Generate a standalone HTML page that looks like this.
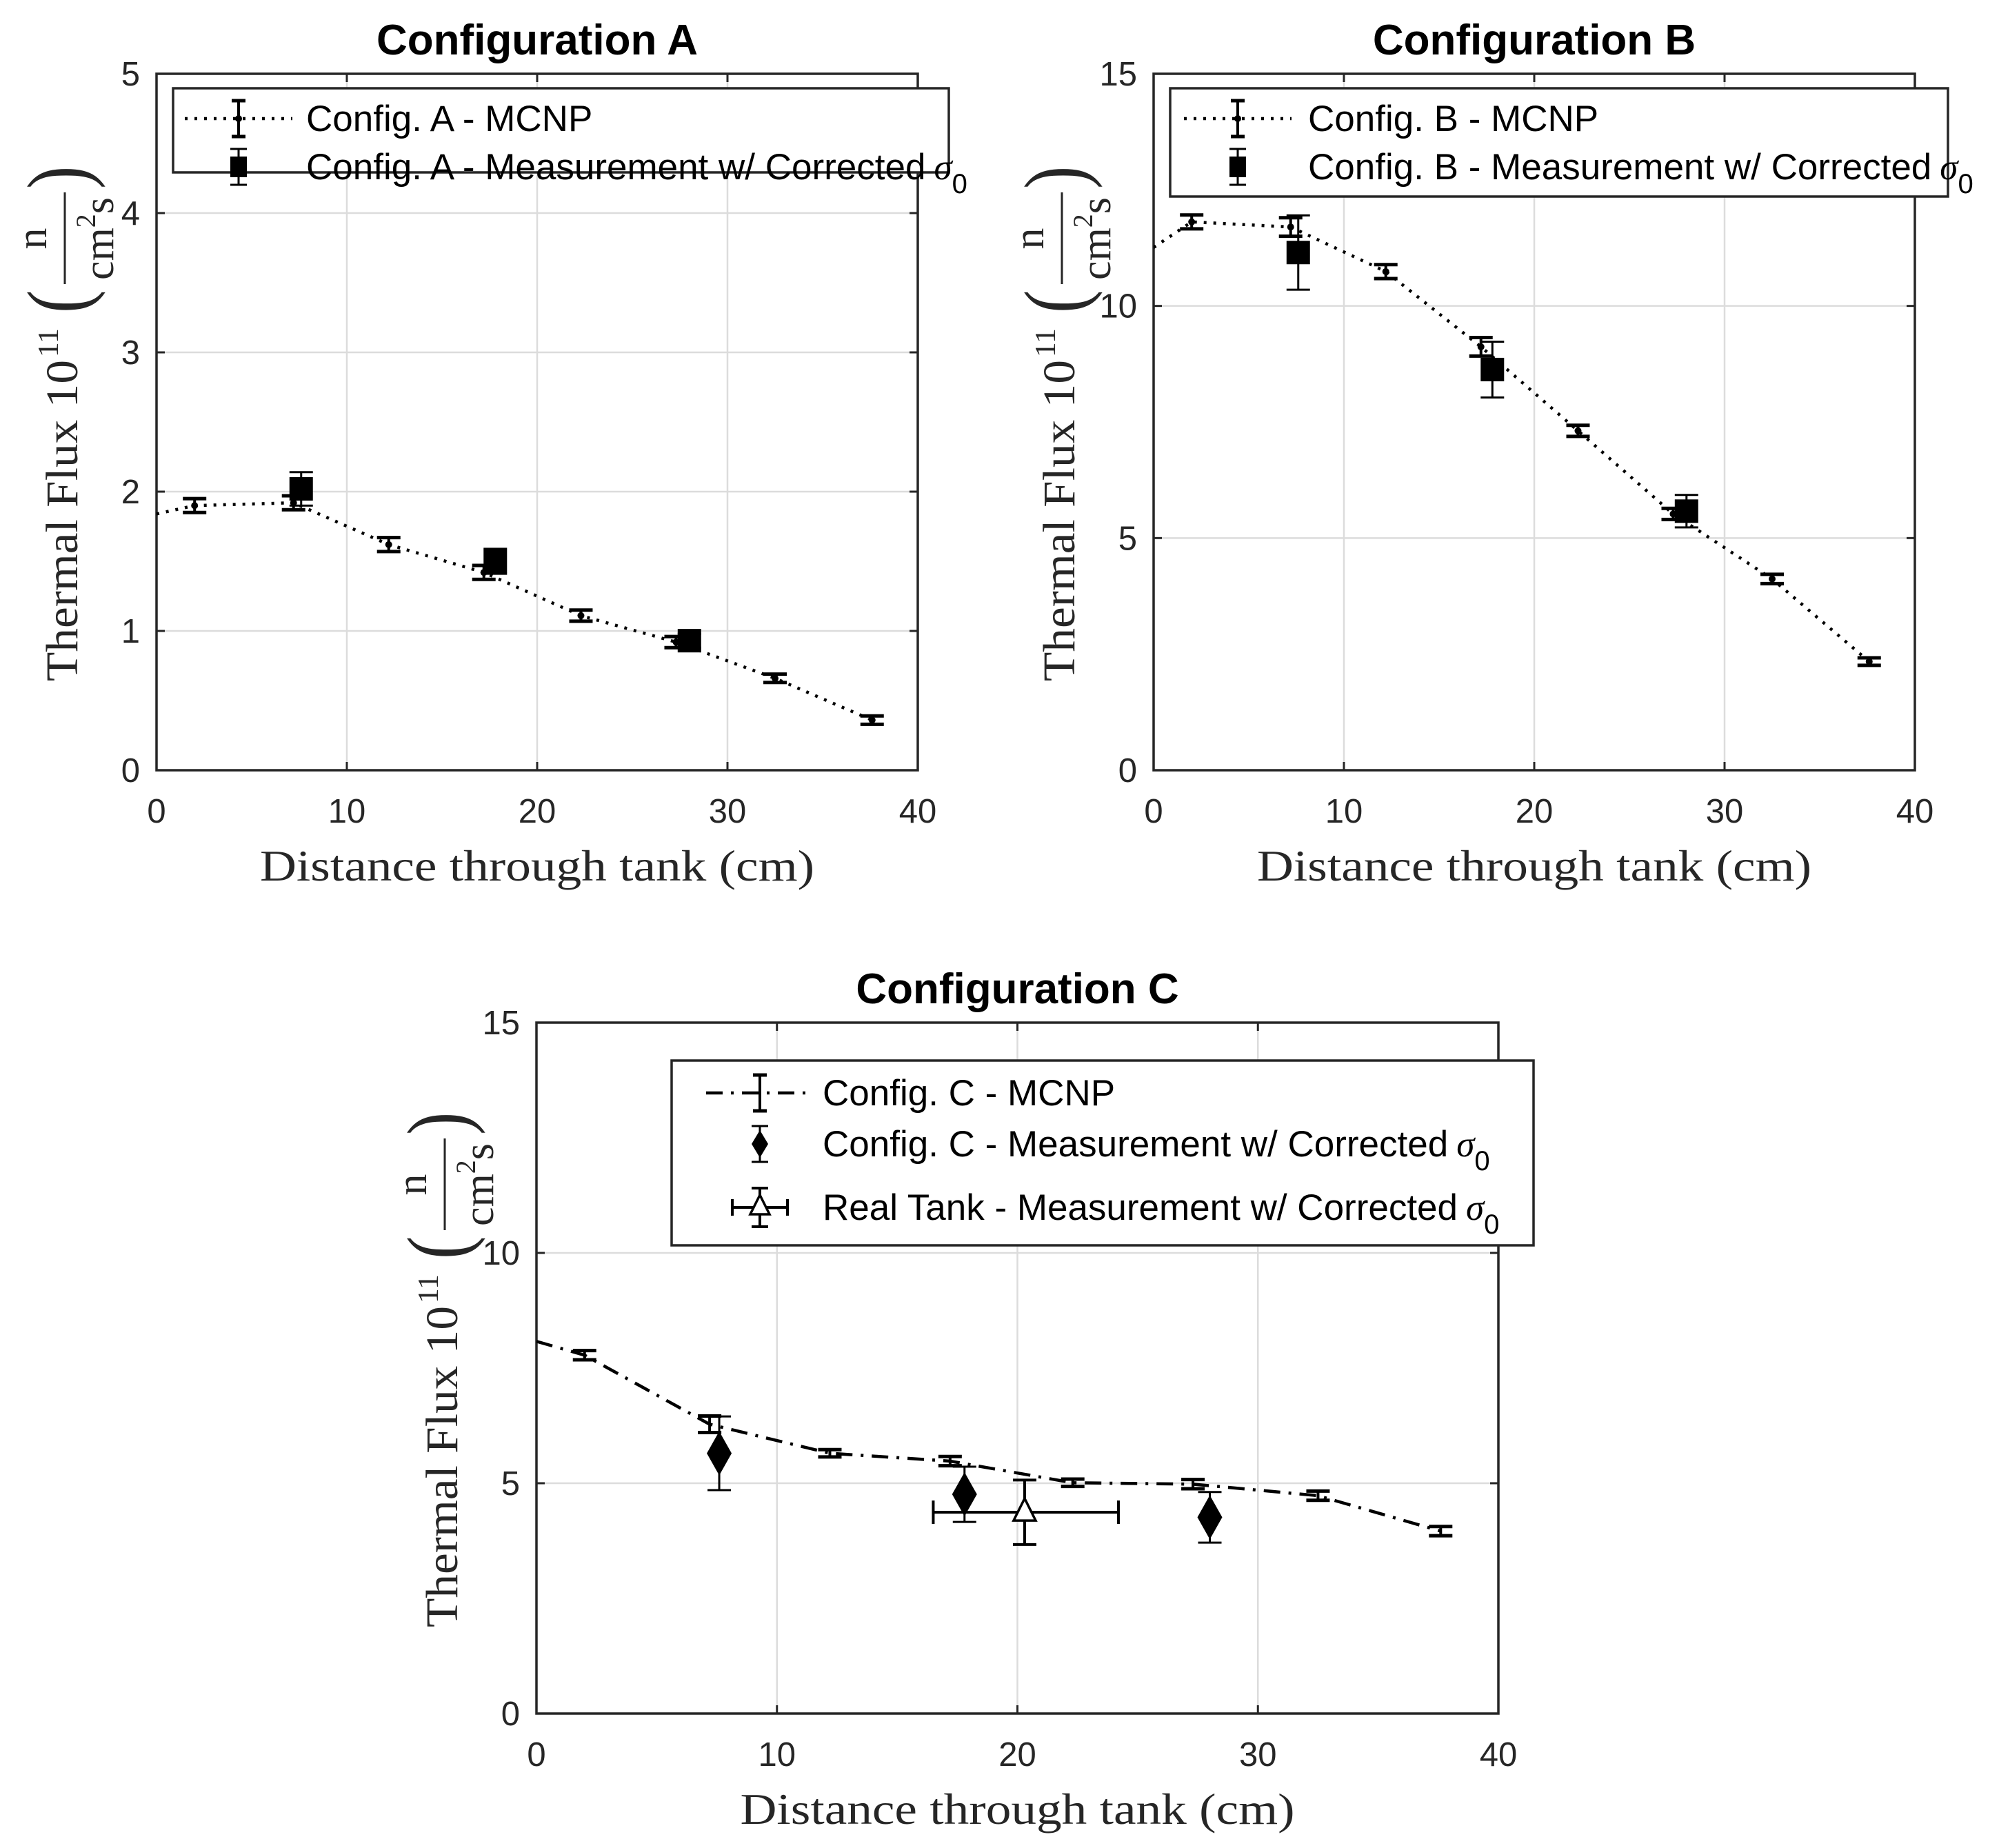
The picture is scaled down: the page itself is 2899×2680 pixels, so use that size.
<!DOCTYPE html>
<html><head><meta charset="utf-8"><style>
body{margin:0;background:#fff}
svg{display:block}
.t{font-family:"Liberation Sans",sans-serif}
.s{font-family:"Liberation Serif",serif}
</style></head><body>
<svg id="fig" width="2899" height="2680" viewBox="0 0 2899 2680" xmlns="http://www.w3.org/2000/svg"></svg>
<script>
// ---- Data ----
const xMcnp = [2, 7.2, 12.2, 17.2, 22.3, 27.3, 32.5, 37.6];
const xMeas = [7.6, 17.8, 28];
const aMcnpY = [1.9, 1.92, 1.62, 1.42, 1.11, 0.92, 0.66, 0.36];
const aMcnpErr = [0.05, 0.05, 0.05, 0.05, 0.04, 0.04, 0.03, 0.03];
const aStart = 1.84;
const aMeasY = [2.02, 1.5, 0.93];
const aMeasErr = [0.12, 0.09, 0.05];
const bMcnpY = [11.81, 11.7, 10.74, 9.12, 7.31, 5.52, 4.12, 2.34];
const bMcnpErr = [0.15, 0.2, 0.15, 0.2, 0.12, 0.12, 0.1, 0.08];
const bStart = 11.26;
const bMeasY = [11.15, 8.63, 5.58];
const bMeasErr = [0.8, 0.6, 0.35];
const cMcnpY = [7.78, 6.28, 5.65, 5.48, 5.01, 4.98, 4.73, 3.96];
const cMcnpErr = [0.1, 0.18, 0.08, 0.1, 0.08, 0.1, 0.1, 0.1];
const cStart = 8.08;
const cMeasY = [5.65, 4.76, 4.26];
const cMeasErr = [0.8, 0.6, 0.55];
const tankX = [20.3];
const tankY = [4.37];
const tankYErr = [0.7];
const tankXLo = [16.5];
const tankXHi = [24.2];
const xTicks = [0, 10, 20, 30, 40];
const aYTicks = [0, 1, 2, 3, 4, 5];
const bcYTicks = [0, 5, 10, 15];

const NS = 'http://www.w3.org/2000/svg';
const svg = document.getElementById('fig');
function mk(tag, attrs, parent, txt){
  const e = document.createElementNS(NS, tag);
  for (const k in attrs) e.setAttribute(k, attrs[k]);
  if (txt !== undefined) e.textContent = txt;
  (parent || svg).appendChild(e);
  return e;
}

function panel(p){
  const g = mk('g', {});
  
  
  const X = v => p.L + (v - 0) / 40 * (p.R - p.L);
  const Y = v => p.B - v / p.ymax * (p.B - p.T);
  xTicks.forEach(v => {
    if (v > 0 && v < 40) { const gl = mk('line', {x1:X(v), x2:X(v), y1:p.T, y2:p.B, stroke:'#dcdcdc', 'stroke-width':2.5}, g);
        }
    const t = mk('text', {x:X(v), y:p.B + 76, 'text-anchor':'middle', 'font-size':49, fill:'#262626', class:'t'}, g, v);
     
    mk('line', {x1:X(v), x2:X(v), y1:p.B, y2:p.B-12, stroke:'#262626', 'stroke-width':3}, g);
    mk('line', {x1:X(v), x2:X(v), y1:p.T, y2:p.T+12, stroke:'#262626', 'stroke-width':3}, g);
  });
  p.yt.forEach(v => {
    if (v > 0 && v < p.ymax) { const gl = mk('line', {x1:p.L, x2:p.R, y1:Y(v), y2:Y(v), stroke:'#dcdcdc', 'stroke-width':2.5}, g);
        }
    const t = mk('text', {x:p.L - 24, y:Y(v) + 17, 'text-anchor':'end', 'font-size':49, fill:'#262626', class:'t'}, g, v);
     
    mk('line', {x1:p.L, x2:p.L+12, y1:Y(v), y2:Y(v), stroke:'#262626', 'stroke-width':3}, g);
    mk('line', {x1:p.R, x2:p.R-12, y1:Y(v), y2:Y(v), stroke:'#262626', 'stroke-width':3}, g);
  });
  const box = mk('rect', {x:p.L, y:p.T, width:p.R-p.L, height:p.B-p.T, fill:'none', stroke:'#262626', 'stroke-width':3.5}, g);
   
  const title = mk('text', {x:(p.L+p.R)/2, y:p.T - 28, 'text-anchor':'middle', 'font-size':62, 'font-weight':'bold', class:'t'}, g, p.title);
   
  const xl = mk('text', {x:(p.L+p.R)/2, y:p.B + 160, 'text-anchor':'middle', 'font-size':64, fill:'#262626', class:'s', textLength:804, lengthAdjust:'spacingAndGlyphs'}, g, 'Distance through tank  (cm)');
   
  const cy = (p.T + p.B) / 2, cx = p.L - 135;
  const yl = mk('g', {transform:`translate(${cx},${cy}) rotate(-90)`, fill:'#262626', class:'s'}, g);
   
  mk('text', {x:-376, y:20, 'font-size':66, textLength:466, lengthAdjust:'spacingAndGlyphs'}, yl, 'Thermal Flux 10');
  mk('text', {x:94, y:-8, 'font-size':42, textLength:42, lengthAdjust:'spacingAndGlyphs'}, yl, '11');
  mk('text', {x:0, y:0, 'font-size':100, transform:'translate(158,34) scale(1,1.25)'}, yl, '(');
  mk('text', {x:266, y:-25, 'font-size':62, 'text-anchor':'middle'}, yl, 'n');
  mk('line', {x1:200, x2:333, y1:2, y2:2, stroke:'#262626', 'stroke-width':3}, yl);
  const cm = mk('text', {x:266, y:72, 'font-size':62, 'text-anchor':'middle'}, yl);
  mk('tspan', {}, cm, 'cm');
  mk('tspan', {'font-size':40, dy:-26}, cm, '2');
  mk('tspan', {dy:26}, cm, 's');
  mk('text', {x:0, y:0, 'font-size':100, transform:'translate(338,34) scale(1,1.25)'}, yl, ')');

  const cid = 'clip-' + p.name;
  const cp = mk('clipPath', {id:cid}, g); mk('rect', {x:p.L, y:p.T, width:p.R-p.L, height:p.B-p.T}, cp);
  const pg = mk('g', {'clip-path':`url(#${cid})`}, g);
  let d = `M${X(0)},${Y(p.start)}`;
  xMcnp.forEach((x, i) => d += ` L${X(x)},${Y(p.mY[i])}`);
  const ln = mk('path', {d, fill:'none', stroke:'#000', 'stroke-width':4.5, 'stroke-dasharray':p.dash}, pg);
   
  xMcnp.forEach((x, i) => {
    const e = mk('g', {}, pg);
     
    const y1 = Y(p.mY[i] + p.mE[i]), y2 = Y(p.mY[i] - p.mE[i]);
    mk('line', {x1:X(x), x2:X(x), y1, y2, stroke:'#000', 'stroke-width':4}, e);
    mk('line', {x1:X(x)-17, x2:X(x)+17, y1, y2:y1, stroke:'#000', 'stroke-width':5}, e);
    mk('line', {x1:X(x)-17, x2:X(x)+17, y1:y2, y2:y2, stroke:'#000', 'stroke-width':5}, e);
    if (p.dotMarker) mk('circle', {cx:X(x), cy:Y(p.mY[i]), r:5, fill:'#000'}, e);
  });
  xMeas.forEach((x, i) => {
    const e = mk('g', {}, pg);
     
    const y1 = Y(p.sY[i] + p.sE[i]), y2 = Y(p.sY[i] - p.sE[i]);
    mk('line', {x1:X(x), x2:X(x), y1, y2, stroke:'#000', 'stroke-width':3}, e);
    mk('line', {x1:X(x)-17, x2:X(x)+17, y1, y2:y1, stroke:'#000', 'stroke-width':3}, e);
    mk('line', {x1:X(x)-17, x2:X(x)+17, y1:y2, y2:y2, stroke:'#000', 'stroke-width':3}, e);
    const cxp = X(x), cyp = Y(p.sY[i]);
    if (p.diamond) mk('polygon', {points:`${cxp},${cyp-32} ${cxp+18},${cyp} ${cxp},${cyp+32} ${cxp-18},${cyp}`, fill:'#000'}, e);
    else mk('rect', {x:cxp-17, y:cyp-17, width:34, height:34, fill:'#000'}, e);
  });
  if (p.tank) {
    tankX.forEach((x, i) => {
      const e = mk('g', {}, pg);
       
      const cxp = X(x), cyp = Y(tankY[i]);
      const y1 = Y(tankY[i] + tankYErr[i]), y2 = Y(tankY[i] - tankYErr[i]);
      mk('line', {x1:cxp, x2:cxp, y1, y2, stroke:'#000', 'stroke-width':4}, e);
      mk('line', {x1:cxp-17, x2:cxp+17, y1, y2:y1, stroke:'#000', 'stroke-width':4}, e);
      mk('line', {x1:cxp-17, x2:cxp+17, y1:y2, y2:y2, stroke:'#000', 'stroke-width':4}, e);
      const xa = X(tankXLo[i]), xb = X(tankXHi[i]);
      mk('line', {x1:xa, x2:xb, y1:cyp, y2:cyp, stroke:'#000', 'stroke-width':4}, e);
      mk('line', {x1:xa, x2:xa, y1:cyp-17, y2:cyp+17, stroke:'#000', 'stroke-width':4}, e);
      mk('line', {x1:xb, x2:xb, y1:cyp-17, y2:cyp+17, stroke:'#000', 'stroke-width':4}, e);
      mk('polygon', {points:`${cxp},${cyp-20} ${cxp+16},${cyp+12} ${cxp-16},${cyp+12}`, fill:'#fff', stroke:'#000', 'stroke-width':3.5}, e);
    });
  }
  const lg = mk('g', {}, g);
   
  const lb = p.leg;
  mk('rect', {x:lb.x, y:lb.y, width:lb.w, height:lb.h, fill:'#fff', stroke:'#262626', 'stroke-width':3.5}, lg);
  lb.items.forEach((it, i) => {
    const ey = lb.rows[i];
    const en = mk('g', {}, lg);
     
    const ic = lb.icon;
    if (it.kind === 'line') {
      mk('line', {x1:ic-78, x2:ic+78, y1:ey, y2:ey, stroke:'#000', 'stroke-width':4.5, 'stroke-dasharray':p.dash}, en);
      mk('line', {x1:ic, x2:ic, y1:ey-26, y2:ey+26, stroke:'#000', 'stroke-width':4}, en);
      mk('line', {x1:ic-10, x2:ic+10, y1:ey-26, y2:ey-26, stroke:'#000', 'stroke-width':5}, en);
      mk('line', {x1:ic-10, x2:ic+10, y1:ey+26, y2:ey+26, stroke:'#000', 'stroke-width':5}, en);
      if (p.dotMarker) mk('circle', {cx:ic, cy:ey, r:5, fill:'#000'}, en);
    } else if (it.kind === 'tank') {
      mk('line', {x1:ic-40, x2:ic+40, y1:ey, y2:ey, stroke:'#000', 'stroke-width':4}, en);
      mk('line', {x1:ic-40, x2:ic-40, y1:ey-12, y2:ey+12, stroke:'#000', 'stroke-width':4}, en);
      mk('line', {x1:ic+40, x2:ic+40, y1:ey-12, y2:ey+12, stroke:'#000', 'stroke-width':4}, en);
      mk('line', {x1:ic, x2:ic, y1:ey-28, y2:ey+28, stroke:'#000', 'stroke-width':4}, en);
      mk('line', {x1:ic-12, x2:ic+12, y1:ey-28, y2:ey-28, stroke:'#000', 'stroke-width':4}, en);
      mk('line', {x1:ic-12, x2:ic+12, y1:ey+28, y2:ey+28, stroke:'#000', 'stroke-width':4}, en);
      mk('polygon', {points:`${ic},${ey-18} ${ic+14},${ey+10} ${ic-14},${ey+10}`, fill:'#fff', stroke:'#000', 'stroke-width':3.5}, en);
    } else {
      mk('line', {x1:ic, x2:ic, y1:ey-26, y2:ey+26, stroke:'#000', 'stroke-width':3}, en);
      mk('line', {x1:ic-12, x2:ic+12, y1:ey-26, y2:ey-26, stroke:'#000', 'stroke-width':3}, en);
      mk('line', {x1:ic-12, x2:ic+12, y1:ey+26, y2:ey+26, stroke:'#000', 'stroke-width':3}, en);
      if (it.kind === 'diamond') mk('polygon', {points:`${ic},${ey-20} ${ic+12},${ey} ${ic},${ey+20} ${ic-12},${ey}`, fill:'#000'}, en);
      else mk('rect', {x:ic-12, y:ey-15, width:24, height:30, fill:'#000'}, en);
    }
    const tx = mk('text', {x:lb.tx, y:ey + 18, 'font-size':53, class:'t', fill:'#000'}, en, it.label);
    if (it.sigma) {
      mk('tspan', {'font-family':'"Liberation Serif",serif', 'font-style':'italic', dx:12}, tx, 'σ');
      mk('tspan', {'font-size':40, dy:20}, tx, '0');
    }
  });
}

panel({name:'chart-config-a', title:'Configuration A', L:227, R:1331, T:107, B:1117, ymax:5, yt:aYTicks,
  start:aStart, mY:aMcnpY, mE:aMcnpErr, sY:aMeasY, sE:aMeasErr, dash:'4,10', dotMarker:true, diamond:false, tank:false,
  leg:{x:251, y:128, w:1125, h:122, icon:346, tx:444, rows:[172, 242],
    items:[{kind:'line', label:'Config. A - MCNP'}, {kind:'square', label:'Config. A - Measurement w/ Corrected', sigma:true}]}});
panel({name:'chart-config-b', title:'Configuration B', L:1673, R:2777, T:107, B:1117, ymax:15, yt:bcYTicks,
  start:bStart, mY:bMcnpY, mE:bMcnpErr, sY:bMeasY, sE:bMeasErr, dash:'4,10', dotMarker:true, diamond:false, tank:false,
  leg:{x:1697, y:128, w:1128, h:157, icon:1795, tx:1897, rows:[172, 242],
    items:[{kind:'line', label:'Config. B - MCNP'}, {kind:'square', label:'Config. B - Measurement w/ Corrected', sigma:true}]}});
panel({name:'chart-config-c', title:'Configuration C', L:778, R:2173, T:1483, B:2485, ymax:15, yt:bcYTicks,
  start:cStart, mY:cMcnpY, mE:cMcnpErr, sY:cMeasY, sE:cMeasErr, dash:'24,12,4,12', dotMarker:false, diamond:true, tank:true,
  leg:{x:974, y:1538, w:1250, h:268, icon:1102, tx:1193, rows:[1585, 1659, 1751],
    items:[{kind:'line', label:'Config. C - MCNP'}, {kind:'diamond', label:'Config. C - Measurement w/ Corrected', sigma:true},
           {kind:'tank', label:'Real Tank - Measurement w/ Corrected', sigma:true}]}});
</script>
</body></html>
